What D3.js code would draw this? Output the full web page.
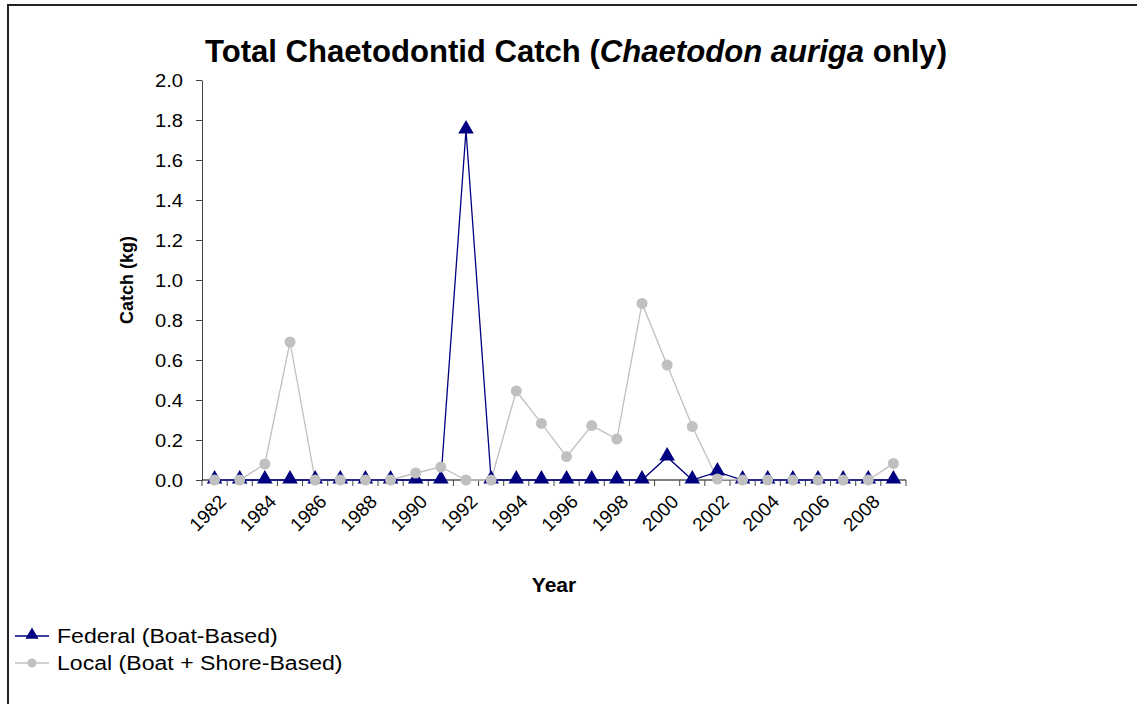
<!DOCTYPE html>
<html><head><meta charset="utf-8">
<script src="https://cdn.jsdelivr.net/npm/d3@7"></script>
<style>body{margin:0;background:#fff}svg{display:block;font-family:"Liberation Sans",Arial,sans-serif}</style>
</head><body><svg id="c" width="1137" height="704"></svg>
<script>
const years = d3.range(1982, 2010);
const federal = [0,0,0,0,0,0,0,0,0,0,1.75,0,0,0,0,0,0,0,0.115,0,0.04,0,0,0,0,0,0,0];
const local   = [0,0,0.08,0.69,0,0,0,0,0.035,0.065,0,0,0.445,0.283,0.117,0.272,0.205,0.883,0.575,0.267,0.005,0,0,0,0,0,0,0.083];
const yTicks = [0,0.2,0.4,0.6,0.8,1.0,1.2,1.4,1.6,1.8,2.0];
const xLabelYears = years.filter((y,i)=>i%2===0);
const seriesNames = ["Federal (Boat-Based)","Local (Boat + Shore-Based)"];
const navy = "#000080", grey = "#c0c0c0";

const svg = d3.select("#c");
// frame
svg.append("path").attr("d","M8,720 L8,5 L1150,5").attr("fill","none").attr("stroke","#222").attr("stroke-width",2);

const L=202, R=906, T=80, B=480;
const x = d3.scaleBand().domain(years).range([L,R]);
const y = d3.scaleLinear().domain([0,2]).range([B,T]);
const cx = d => x(d)+x.bandwidth()/2;

// title
const title = svg.append("text").attr("x",576).attr("y",62).attr("text-anchor","middle")
  .attr("font-size",31).attr("font-weight","bold").attr("fill","#000")
  .attr("textLength",742).attr("lengthAdjust","spacingAndGlyphs");
title.append("tspan").text("Total Chaetodontid Catch (");
title.append("tspan").attr("font-style","italic").text("Chaetodon auriga");
title.append("tspan").text(" only)");

// y axis
const ya = svg.append("g").attr("transform",`translate(${L},0)`)
  .call(d3.axisLeft(y).tickValues(yTicks).tickFormat(d3.format(".1f")).tickSize(6).tickSizeOuter(0));
ya.select(".domain").attr("stroke","#444");
ya.selectAll(".tick line").attr("stroke","#444");
ya.selectAll(".tick text").attr("font-size",18).attr("font-family","Liberation Sans, Arial, sans-serif").attr("fill","#000")
  .attr("x",0).attr("dy","0.36em").attr("transform","translate(-19,0) scale(1.12,1)");

// x axis (ticks at category boundaries)
const xa = svg.append("g").attr("transform",`translate(0,${B})`);
xa.append("line").attr("x1",L).attr("x2",R).attr("stroke","#000");
xa.selectAll("line.t").data(years.concat([null])).enter().append("line").attr("class","t")
  .attr("x1",(d,i)=> i<years.length? x(d) : R).attr("x2",(d,i)=> i<years.length? x(d) : R)
  .attr("y1",0).attr("y2",6).attr("stroke","#444");
xa.selectAll("text").data(xLabelYears).enter().append("text")
  .attr("transform",d=>`translate(${cx(d)+3},${13}) rotate(-45)`)
  .attr("text-anchor","end").attr("font-size",19).attr("dy","0.72em").text(d=>d);

// axis titles
svg.append("text").attr("x",554).attr("y",592).attr("text-anchor","middle").attr("font-size",21).attr("font-weight","bold").text("Year");
svg.append("text").attr("transform","translate(133,280) rotate(-90)").attr("text-anchor","middle").attr("font-size",18).attr("font-weight","bold").text("Catch (kg)");

const line = d3.line().x((d,i)=>cx(years[i])).y(d=>y(d));
const tri = d3.symbol().type(d3.symbolTriangle).size(105);

// local series
svg.append("path").datum(local).attr("d",line).attr("fill","none").attr("stroke",grey).attr("stroke-width",1.3);
// federal series
svg.append("path").datum(federal).attr("d",line).attr("fill","none").attr("stroke",navy).attr("stroke-width",1.3);
svg.selectAll("path.tri").data(federal).enter().append("path").attr("class","tri")
  .attr("d",tri).attr("transform",(d,i)=>`translate(${cx(years[i])},${y(d)-1})`).attr("fill",navy);
svg.selectAll("circle.loc").data(local).enter().append("circle").attr("class","loc")
  .attr("cx",(d,i)=>cx(years[i])).attr("cy",d=>y(d)).attr("r",5.5).attr("fill",grey);

// legend
const lg = svg.append("g");
const rows = [{name:seriesNames[0],c:navy,m:"tri"},{name:seriesNames[1],c:grey,m:"circ"}];
rows.forEach((r,i)=>{
  const yy = 636 + i*27;
  lg.append("line").attr("x1",15).attr("x2",49).attr("y1",yy).attr("y2",yy).attr("stroke",r.c).attr("stroke-width",1.3);
  if(r.m==="tri") lg.append("path").attr("d",d3.symbol().type(d3.symbolTriangle).size(75)).attr("transform",`translate(32,${yy-1})`).attr("fill",r.c);
  else lg.append("circle").attr("cx",32).attr("cy",yy).attr("r",4.5).attr("fill",r.c);
  lg.append("text").attr("x",0).attr("transform",`translate(57,${yy+7}) scale(1.1,1)`).attr("font-size",21).text(r.name);
});
</script></body></html>
